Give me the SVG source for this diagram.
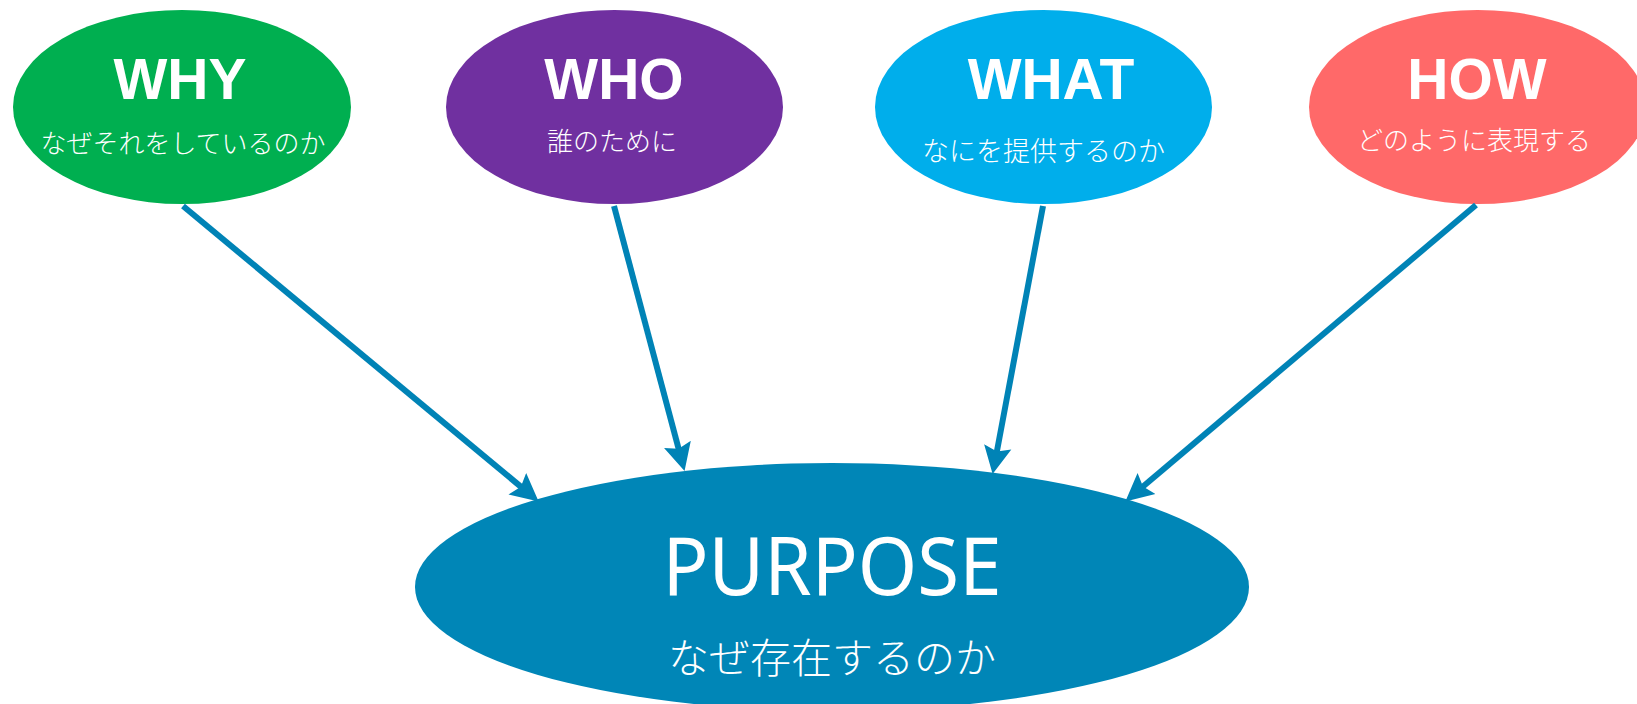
<svg xmlns="http://www.w3.org/2000/svg" width="1637" height="704" viewBox="0 0 1637 704">
  <defs>
    <style>
      .title { font-family: "Liberation Sans", Arial, sans-serif; font-weight: bold; font-size: 57px; fill: #ffffff; text-anchor: middle; }
      .sub { font-family: "Noto Sans CJK JP", "Noto Sans", sans-serif; font-weight: 300; font-size: 26px; fill: #ffffff; text-anchor: middle; }
      .main { font-family: "Noto Sans", "Liberation Sans", sans-serif; font-weight: 400; font-size: 80px; fill: #ffffff; text-anchor: middle; }
      .mainsub { font-family: "Noto Sans CJK JP", "Noto Sans", sans-serif; font-weight: 300; font-size: 41px; fill: #ffffff; text-anchor: middle; }
      .link { stroke: #0083b6; stroke-width: 6; fill: none; marker-end: url(#head); }
    </style>
    <!-- filled arrowhead with a slight notch; tip sits 14px past the line end -->
    <marker id="head" markerUnits="userSpaceOnUse" markerWidth="30" markerHeight="30" viewBox="0 -13 26 26" refX="10" refY="0" orient="auto">
      <path d="M0,-12 L24,0 L0,12 L4,0 Z" fill="#0083b6"/>
    </marker>
  </defs>

  <rect x="0" y="0" width="1637" height="704" fill="#ffffff"/>

  <g id="why">
    <ellipse cx="182" cy="107" rx="169" ry="97" fill="#00af50"/>
    <text class="title" x="180" y="99">WHY</text>
    <text class="sub" x="183" y="153">なぜそれをしているのか</text>
  </g>

  <g id="who">
    <ellipse cx="614.5" cy="107" rx="168.5" ry="97" fill="#7030a0"/>
    <text class="title" x="614" y="99">WHO</text>
    <text class="sub" x="612" y="151">誰のために</text>
  </g>

  <g id="what">
    <ellipse cx="1043.5" cy="107" rx="168.5" ry="97" fill="#00aeeb"/>
    <text class="title" x="1051" y="99">WHAT</text>
    <text class="sub" x="1043.5" y="161" style="font-size:27px">なにを提供するのか</text>
  </g>

  <g id="how">
    <ellipse cx="1477.5" cy="107" rx="168.5" ry="97" fill="#ff6969"/>
    <text class="title" x="1477" y="99">HOW</text>
    <text class="sub" x="1474" y="150">どのように表現する</text>
  </g>

  <g id="purpose">
    <ellipse cx="832" cy="587" rx="417" ry="124" fill="#0086b7"/>
    <text class="main" x="832" y="595" textLength="339" lengthAdjust="spacingAndGlyphs">PURPOSE</text>
    <text class="mainsub" x="832" y="673">なぜ存在するのか</text>
  </g>

  <g id="connectors">
    <line class="link" x1="183" y1="206" x2="526.2" y2="491.1"/>
    <line class="link" x1="614" y1="206" x2="680.4" y2="455.5"/>
    <line class="link" x1="1043" y1="206" x2="995.6" y2="458.2"/>
    <line class="link" x1="1476" y1="205" x2="1137.7" y2="491"/>
  </g>
</svg>
